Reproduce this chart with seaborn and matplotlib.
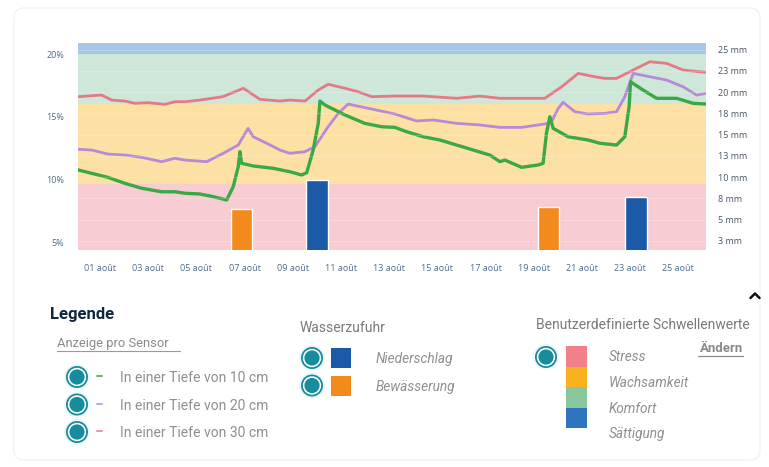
import matplotlib
matplotlib.use("Agg")
import matplotlib.pyplot as plt
from matplotlib.patches import FancyBboxPatch, Circle, Rectangle
import seaborn as sns

# Bodenfeuchte je Tiefe: Tag im August -> Feuchte in %
tage_10cm = [0.1, 0.66, 1.33, 2.04, 2.73, 3.56, 4.11, 4.53, 5.15, 5.70, 6.26, 6.53, 6.74, 6.81,
             6.88, 7.36, 8.19, 8.88, 9.37, 9.58, 9.85, 10.06, 10.13, 10.34, 11.17, 11.99, 12.69,
             13.24, 13.73, 14.42, 15.11, 15.80, 16.49, 17.18, 17.60, 17.80, 18.50, 19.19, 19.39,
             19.53, 19.67, 19.81, 20.43, 21.26, 21.75, 22.44, 22.78, 22.96, 23.02, 23.54, 24.10,
             24.93, 25.62, 26.17]
feuchte_10cm = [10.77, 10.50, 10.18, 9.70, 9.31, 9.03, 9.03, 8.91, 8.85, 8.64, 8.37, 9.43, 11.03, 12.23,
                11.30, 11.09, 10.90, 10.63, 10.37, 10.55, 12.36, 14.49, 16.27, 15.95, 15.16, 14.49, 14.22,
                14.17, 13.82, 13.42, 13.16, 12.76, 12.36, 11.96, 11.43, 11.56, 10.98, 11.17, 11.30,
                13.70, 15.02, 14.09, 13.42, 13.16, 12.90, 12.76, 13.42, 15.82, 17.81, 17.15, 16.49,
                16.49, 16.09, 16.03]

tage_20cm = [0.1, 0.66, 1.33, 2.04, 2.73, 3.56, 4.11, 4.53, 5.43, 6.12, 6.74, 7.15, 7.36, 7.92, 8.47,
             8.88, 9.51, 9.92, 10.47, 10.89, 11.30, 12.13, 13.24, 14.14, 14.83, 15.80, 16.77, 17.60,
             18.50, 19.46, 19.74, 20.02, 20.22, 20.71, 21.26, 21.95, 22.44, 22.78, 23.13, 23.82,
             24.51, 25.20, 25.76, 26.17]
feuchte_20cm = [12.42, 12.36, 12.04, 11.96, 11.78, 11.43, 11.70, 11.56, 11.43, 12.10, 12.76, 14.09, 13.42,
                12.90, 12.36, 12.10, 12.23, 12.63, 14.22, 15.29, 16.03, 15.69, 15.24, 14.68, 14.76, 14.49,
                14.36, 14.17, 14.17, 14.44, 14.62, 15.69, 16.17, 15.42, 15.24, 15.29, 15.42, 16.62,
                18.48, 18.21, 17.95, 17.41, 16.75, 16.89]

tage_30cm = [0.1, 1.07, 1.49, 2.04, 2.45, 2.99, 3.70, 4.11, 4.53, 5.15, 6.10, 6.95, 7.64, 8.47, 8.88,
             9.51, 10.06, 10.47, 11.17, 11.71, 12.27, 13.24, 14.42, 15.80, 16.77, 17.60, 18.50, 19.46,
             20.16, 20.85, 21.54, 21.95, 22.44, 23.13, 23.82, 24.51, 25.20, 26.17]
feuchte_30cm = [16.62, 16.75, 16.35, 16.27, 16.09, 16.14, 16.01, 16.22, 16.22, 16.35, 16.62, 17.29, 16.41,
                16.27, 16.35, 16.27, 17.15, 17.61, 17.29, 17.02, 16.62, 16.67, 16.67, 16.49, 16.67, 16.49,
                16.49, 16.49, 17.41, 18.48, 18.21, 18.08, 18.08, 18.75, 19.41, 19.28, 18.75, 18.56]

# Wasserzufuhr (mm)
regen_tage = [10.0, 23.25]
regen_mm = [9.7, 7.7]
bewaesserung_tage = [6.88, 19.6]
bewaesserung_mm = [6.3, 6.45]

# Benutzerdefinierte Schwellenwerte (%)
grenzen = [9.65, 16.0, 20.0]
schwellen_namen = ["Stress", "Wachsamkeit", "Komfort", "Sättigung"]
schwellen_farben = ["#f7cdd3", "#fde0a3", "#cfe7d9", "#a8c6e6"]
legenden_farben = ["#f08189", "#f9b21e", "#86c79d", "#2f74c0"]

x_ticks = [1, 3, 5, 7, 9, 11, 13, 15, 17, 19, 21, 23, 25]
x_labels = [f"{d:02d} août" for d in x_ticks]
y_ticks = [5, 10, 15, 20]
y_labels = ["5%", "10%", "15%", "20%"]
mm_ticks = [2.5, 5, 7.5, 10, 12.5, 15, 17.5, 20, 22.5, 25]
mm_labels = ["3 mm", "5 mm", "8 mm", "10 mm", "13 mm", "15 mm", "18 mm", "20 mm", "23 mm", "25 mm"]

sensoren = ["In einer Tiefe von 10 cm", "In einer Tiefe von 20 cm", "In einer Tiefe von 30 cm"]
sensor_farben = ["#3aa845", "#b68ad6", "#e57a86"]
regen_farbe = "#1a5aa6"
bewaesserung_farbe = "#f28a1c"
teal = "#178c9c"

sns.set_theme(style="white")
plt.rcParams['font.family'] = ['Roboto', 'DejaVu Sans']

fig = plt.figure(figsize=(7.69, 4.67), dpi=100)

# Hintergrund / Karte in Pixelkoordinaten
bg = fig.add_axes([0, 0, 1, 1], zorder=0)
bg.set_xlim(0, 769)
bg.set_ylim(467, 0)
bg.axis("off")
bg.add_patch(FancyBboxPatch((14, 8), 746, 452, boxstyle="round,pad=0,rounding_size=10",
                            facecolor="white", edgecolor="#f3f3f3", linewidth=1.0))

ymin, ymax = 4.38, 20.93
ax = fig.add_axes([78 / 769, 1 - 250 / 467, 628 / 769, 207.3 / 467], zorder=1)
ax.set_xlim(0.09, 26.15)
ax.set_ylim(ymin, ymax)

unten = [ymin] + grenzen
oben = grenzen + [ymax]
for u, o, c in zip(unten, oben, schwellen_farben):
    ax.axhspan(u, o, color=c, lw=0, zorder=0)

for tage, werte, farbe, lw in [(tage_30cm, feuchte_30cm, sensor_farben[2], 2.0),
                               (tage_20cm, feuchte_20cm, sensor_farben[1], 2.0),
                               (tage_10cm, feuchte_10cm, sensor_farben[0], 2.4)]:
    sns.lineplot(x=tage, y=werte, ax=ax, color=farbe, linewidth=lw, estimator=None, zorder=3)

ax.set_xticks(x_ticks)
ax.set_xticklabels(x_labels)
ax.set_yticks(y_ticks)
ax.set_yticklabels(y_labels)
ax.tick_params(axis="x", length=0, pad=10, labelsize=6.5, labelcolor="#4f6d8c")
ax.tick_params(axis="y", length=0, pad=10, labelsize=6.5, labelcolor="#4f6d8c")
for lab in ax.get_xticklabels() + ax.get_yticklabels():
    lab.set_fontfamily("Open Sans")
ax.set_xlabel("")
ax.set_ylabel("")
for s in ax.spines.values():
    s.set_visible(False)

ax2 = ax.twinx()
ax2.set_ylim(1.44, 25.8)
for m in mm_ticks:
    ax2.axhline(m, color="white", lw=0.8, alpha=0.2, zorder=1)
ax2.bar(bewaesserung_tage, bewaesserung_mm, width=0.88, color=bewaesserung_farbe, zorder=2)
ax2.bar(regen_tage, regen_mm, width=0.92, color=regen_farbe, zorder=2)
ax2.set_yticks(mm_ticks)
ax2.set_yticklabels(mm_labels)
ax2.tick_params(axis="y", length=0, pad=9, labelsize=6.5, labelcolor="#4a5563")
for lab in ax2.get_yticklabels():
    lab.set_fontfamily("Open Sans")
for s in ax2.spines.values():
    s.set_visible(False)
ax2.grid(False)
ax.grid(False)

# Legende
leg = fig.add_axes([0, 0, 1, 1], zorder=2)
leg.set_xlim(0, 769)
leg.set_ylim(467, 0)
leg.axis("off")


def icon(x, y):
    leg.add_patch(Circle((x, y), 13, facecolor="#e3f1f3", edgecolor="none", alpha=0.6))
    leg.add_patch(Circle((x, y), 11, facecolor=teal, edgecolor="none"))
    leg.add_patch(Circle((x, y), 9.2, facecolor="white", edgecolor="none"))
    leg.add_patch(Circle((x, y), 7.6, facecolor=teal, edgecolor="none"))


grau = "#8f8f8f"
leg.text(50, 314, "Legende", fontsize=12, fontweight="bold", color="#10283f", va="center")
leg.text(57, 344, "Anzeige pro Sensor ", fontsize=9.3, color="#8a8a8a", va="center")
leg.plot([57, 180], [351, 351], color="#9a9a9a", lw=0.8)
for i, (name, farbe) in enumerate(zip(sensoren, sensor_farben)):
    y = 377 + i * 27.5
    icon(77, y)
    leg.plot([97, 102], [y - 1, y - 1], color=farbe, lw=1.4, alpha=0.8)
    leg.text(120, y + 1, name, fontsize=10, color=grau, va="center")

leg.text(300, 328, "Wasserzufuhr", fontsize=10, color="#7a7a7a", va="center")
for i, (name, farbe) in enumerate([("Niederschlag", regen_farbe), ("Bewässerung", bewaesserung_farbe)]):
    y = 358 + i * 27.5
    icon(312, y)
    leg.add_patch(Rectangle((331, y - 10), 20, 20, facecolor=farbe, edgecolor="none"))
    leg.text(376, y + 1, name, fontsize=9.8, color=grau, style="italic", va="center")

leg.text(536, 325, "Benutzerdefinierte Schwellenwerte", fontsize=10, color="#7a7a7a", va="center")
icon(546, 357)
for i, (name, farbe) in enumerate(zip(schwellen_namen, legenden_farben)):
    leg.add_patch(Rectangle((566, 346 + i * 20.5), 21, 20.5, facecolor=farbe, edgecolor="none"))
    leg.text(609, 357 + i * 25.8, name, fontsize=9.8, color=grau, style="italic", va="center")
leg.text(743, 349, "Ändern", fontsize=9.5, color="#8a8a8a", fontweight="bold", ha="right", va="center")
leg.plot([698, 743], [356, 356], color="#8a8a8a", lw=0.9)
leg.plot([750.5, 755, 759.5], [298, 293.5, 298], color="#111111", lw=1.8, solid_capstyle="round")

fig.savefig("out.png", dpi=100)
